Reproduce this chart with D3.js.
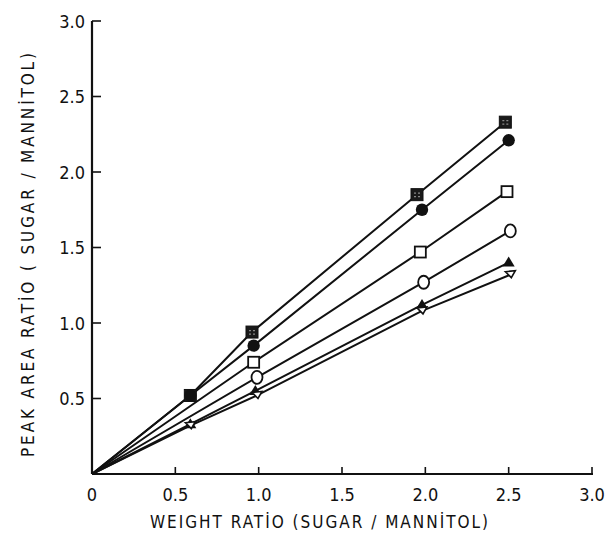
<!DOCTYPE html>
<html>
<head>
<meta charset="utf-8">
<script src="https://cdn.jsdelivr.net/npm/d3@7"></script>
<style>
  body { margin: 0; background: #fff; }
  svg { display: block; }
  text { font-family: "Liberation Sans Narrow", "DejaVu Sans Condensed", sans-serif; fill: #111; }
</style>
</head>
<body>
<div id="chart"></div>
<script>
// tick values
const xTicks = [0.5, 1.0, 1.5, 2.0, 2.5, 3.0];
const yTicks = [0.5, 1.0, 1.5, 2.0, 2.5, 3.0];

// series (weight ratio -> peak area ratio)
const filledSquareX = [0, 0.59, 0.96, 1.95, 2.48];
const filledSquareY = [0, 0.52, 0.94, 1.85, 2.33];
const filledCircleX = [0, 0.59, 0.97, 1.98, 2.50];
const filledCircleY = [0, 0.52, 0.85, 1.75, 2.21];
const openSquareX = [0, 0.97, 1.97, 2.49];
const openSquareY = [0, 0.74, 1.47, 1.87];
const openCircleX = [0, 0.99, 1.99, 2.51];
const openCircleY = [0, 0.64, 1.27, 1.61];
const filledTriangleX = [0, 0.59, 0.98, 1.98, 2.50];
const filledTriangleY = [0, 0.33, 0.55, 1.12, 1.40];
const openTriangleX = [0, 0.59, 0.99, 1.98, 2.51];
const openTriangleY = [0, 0.32, 0.52, 1.08, 1.32];

const series = [
    { shape: 'squareHatch', xs: filledSquareX, ys: filledSquareY },
    { shape: 'circleFilled', xs: filledCircleX, ys: filledCircleY },
    { shape: 'squareOpen', xs: openSquareX, ys: openSquareY },
    { shape: 'circleOpen', xs: openCircleX, ys: openCircleY },
    { shape: 'triFilled', xs: filledTriangleX, ys: filledTriangleY },
    { shape: 'triOpen', xs: openTriangleX, ys: openTriangleY },
];

let margin = { top: 21, right: 20, bottom: 65, left: 92 },
    width = 612 - margin.left - margin.right,
    height = 539 - margin.top - margin.bottom;

let svg = d3.select("#chart")
    .append("svg")
    .attr("width", 612)
    .attr("height", 539)
    .append("g")
    .attr("transform", `translate(${margin.left}, ${margin.top})`);

const x = d3.scaleLinear().domain([0, 3]).range([0, 500]);
const y = d3.scaleLinear().domain([0, 3]).range([453, 0]);

// axes
svg.append("line")
    .attr("x1", x(0)).attr("x2", x(3) + 1)
    .attr("y1", y(0)).attr("y2", y(0))
    .attr("stroke", "#111").attr("stroke-width", 2.2);
svg.append("line")
    .attr("x1", x(0)).attr("x2", x(0))
    .attr("y1", y(0)).attr("y2", y(3))
    .attr("stroke", "#111").attr("stroke-width", 2.2);

svg.selectAll(".xtick")
    .data(xTicks)
    .enter()
    .append("line")
    .attr("x1", d => x(d)).attr("x2", d => x(d))
    .attr("y1", y(0)).attr("y2", y(0) - 7)
    .attr("stroke", "#111").attr("stroke-width", 1.6);

svg.selectAll(".ytick")
    .data(yTicks)
    .enter()
    .append("line")
    .attr("x1", x(0)).attr("x2", x(0) + 9)
    .attr("y1", d => y(d)).attr("y2", d => y(d))
    .attr("stroke", "#111").attr("stroke-width", 1.6);

svg.selectAll(".xlabel")
    .data([0].concat(xTicks))
    .enter()
    .append("text")
    .attr("x", d => x(d))
    .attr("y", y(0) + 27)
    .attr("text-anchor", "middle")
    .attr("font-size", 18)
    .text(d => d === 0 ? "0" : d.toFixed(1));

svg.selectAll(".ylabel")
    .data(yTicks)
    .enter()
    .append("text")
    .attr("x", x(0) - 7)
    .attr("y", d => y(d) + 6.5)
    .attr("text-anchor", "end")
    .attr("font-size", 18)
    .text(d => d.toFixed(1));

svg.append("text")
    .attr("x", 319 - margin.left)
    .attr("y", 528 - margin.top)
    .attr("text-anchor", "middle")
    .attr("font-size", 17)
    .attr("textLength", 338)
    .attr("lengthAdjust", "spacing")
    .text("WEIGHT  RATİO  (SUGAR / MANNİTOL)");

svg.append("text")
    .attr("transform", `translate(${34 - margin.left}, ${255 - margin.top}) rotate(-90)`)
    .attr("text-anchor", "middle")
    .attr("font-size", 17)
    .attr("textLength", 404)
    .attr("lengthAdjust", "spacing")
    .text("PEAK AREA  RATİO ( SUGAR / MANNİTOL)");

// lines
const line = d3.line()
    .x(d => x(d[0]))
    .y(d => y(d[1]));

series.forEach(s => {
    const pts = s.xs.map((v, i) => [v, s.ys[i]]);
    svg.append("path")
        .datum(pts)
        .attr("d", line)
        .attr("fill", "none")
        .attr("stroke", "#111")
        .attr("stroke-width", 2)
        .attr("stroke-linejoin", "round");
});

// markers (drawn on top, skipping the origin)
series.forEach(s => {
    const pts = s.xs.map((v, i) => [v, s.ys[i]]).filter(d => d[0] > 0);
    const g = svg.selectAll(null)
        .data(pts)
        .enter()
        .append("g")
        .attr("transform", d => `translate(${x(d[0])}, ${y(d[1])})`);

    if (s.shape === 'squareHatch') {
        g.append("rect")
            .attr("x", -6).attr("y", -6).attr("width", 12).attr("height", 12)
            .attr("fill", "#1a1a1a").attr("stroke", "#111").attr("stroke-width", 1);
        g.append("path")
            .attr("d", "M-3,-1.5h2M1,-1.5h2M-3,2h2M1,2h2")
            .attr("stroke", "#888").attr("stroke-width", 1.2);
    } else if (s.shape === 'circleFilled') {
        g.append("circle").attr("r", 6.2).attr("fill", "#111");
    } else if (s.shape === 'squareOpen') {
        g.append("rect")
            .attr("x", -5.5).attr("y", -5.5).attr("width", 11).attr("height", 11)
            .attr("fill", "#fff").attr("stroke", "#111").attr("stroke-width", 1.8);
    } else if (s.shape === 'circleOpen') {
        g.append("ellipse").attr("rx", 5.5).attr("ry", 6.5)
            .attr("fill", "#fff").attr("stroke", "#111").attr("stroke-width", 1.8);
    } else if (s.shape === 'triFilled') {
        g.append("path")
            .attr("d", "M0,-6L6,4L-6,4Z")
            .attr("fill", "#111");
    } else if (s.shape === 'triOpen') {
        g.append("path")
            .attr("d", "M-5,-3L5,-4L1,3Z")
            .attr("fill", "#fff").attr("stroke", "#111").attr("stroke-width", 1.6);
    }
});
</script>
</body>
</html>
